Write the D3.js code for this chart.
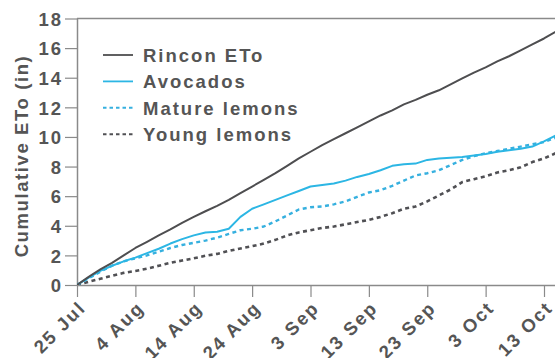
<!DOCTYPE html>
<html>
<head>
<meta charset="utf-8">
<script src="https://cdn.jsdelivr.net/npm/d3@7"></script>
<style>
  html, body { margin: 0; padding: 0; background: #fff; }
  svg { display: block; }
  text { font-family: "Liberation Sans", Arial, sans-serif; font-weight: bold; fill: #555; letter-spacing: 2px; }
</style>
</head>
<body>
<svg id="chart" width="555" height="358"></svg>
<script>
// Days after 25 July for each cumulative reading
const dayOffsets = [0, 2, 4, 6, 8, 10, 12, 14, 16, 18, 20, 22, 24, 26, 28, 30, 32, 34, 36, 38, 40,
  42, 44, 46, 48, 50, 52, 54, 56, 58, 60, 62, 64, 66, 68, 70, 72, 74, 76, 78, 80, 82];

// Cumulative evapotranspiration (inches)
const rinconETo = [0, 0.55, 1.05, 1.5, 2.0, 2.5, 2.92, 3.35, 3.75, 4.2, 4.6, 4.98, 5.35, 5.75, 6.2, 6.65,
  7.1, 7.55, 8.05, 8.55, 9.0, 9.45, 9.85, 10.25, 10.65, 11.05, 11.45, 11.8, 12.2, 12.5, 12.85,
  13.15, 13.55, 13.95, 14.35, 14.7, 15.1, 15.45, 15.85, 16.25, 16.65, 17.1];
const avocados = [0, 0.5, 0.95, 1.3, 1.6, 1.85, 2.15, 2.45, 2.8, 3.1, 3.35, 3.55, 3.6, 3.8, 4.6, 5.15,
  5.45, 5.75, 6.05, 6.35, 6.65, 6.75, 6.85, 7.05, 7.3, 7.5, 7.75, 8.05, 8.15, 8.2, 8.45,
  8.55, 8.6, 8.65, 8.75, 8.85, 9.0, 9.1, 9.2, 9.35, 9.7, 10.1];
const matureLemons = [0, 0.45, 0.9, 1.3, 1.6, 1.8, 2.0, 2.25, 2.5, 2.7, 2.85, 3.0, 3.2, 3.45, 3.7, 3.8,
  3.95, 4.3, 4.7, 5.1, 5.25, 5.3, 5.45, 5.65, 5.95, 6.25, 6.4, 6.7, 7.05, 7.4, 7.55,
  7.75, 8.1, 8.45, 8.7, 8.9, 9.05, 9.2, 9.35, 9.5, 9.65, 9.95];
const youngLemons = [0, 0.22, 0.42, 0.62, 0.82, 0.95, 1.1, 1.3, 1.5, 1.65, 1.8, 1.98, 2.1, 2.3, 2.47, 2.62,
  2.8, 3.05, 3.35, 3.55, 3.7, 3.85, 3.95, 4.1, 4.25, 4.4, 4.6, 4.85, 5.15, 5.3, 5.65,
  6.05, 6.45, 6.95, 7.15, 7.35, 7.6, 7.75, 7.95, 8.3, 8.55, 8.9];

const seriesNames = ["Rincon ETo", "Avocados", "Mature lemons", "Young lemons"];
const xTickLabels = ["25 Jul", "4 Aug", "14 Aug", "24 Aug", "3 Sep", "13 Sep", "23 Sep", "3 Oct", "13 Oct"];
const yTickValues = [0, 2, 4, 6, 8, 10, 12, 14, 16, 18];
const yAxisTitle = "Cumulative ETo (in)";

const startDate = new Date(2003, 6, 25);
const dateOf = d => d3.timeDay.offset(startDate, d);
const parseTick = d3.timeParse("%d %b %Y");
const xTickDates = xTickLabels.map(s => parseTick(s + " 2003"));

const svg = d3.select("#chart");
const plotLeft = 77, plotTop = 18.5, plotBottom = 285, plotRight = 600;

const x = d3.scaleTime()
  .domain([startDate, new Date(2003, 9, 13)])
  .range([plotLeft, 544]);
const y = d3.scaleLinear().domain([0, 18]).range([plotBottom, plotTop]);

const styles = [
  { color: "#4e4e50", dash: null, width: 2 },
  { color: "#2cb6e4", dash: null, width: 2 },
  { color: "#36b0df", dash: "4,3.5", width: 2.4 },
  { color: "#505054", dash: "4,3.5", width: 2.6 }
];
const seriesValues = [rinconETo, avocados, matureLemons, youngLemons];

// Plot frame: axes plus top border line
const axisColor = "#8a8a8a";
svg.append("line").attr("x1", plotLeft).attr("x2", plotRight).attr("y1", plotTop).attr("y2", plotTop)
  .attr("stroke", axisColor).attr("stroke-width", 1.5);

const yAxis = svg.append("g").attr("transform", `translate(${plotLeft},0)`)
  .call(d3.axisLeft(y).tickValues(yTickValues).tickSize(12).tickPadding(4));
const xAxis = svg.append("g").attr("transform", `translate(0,${plotBottom})`)
  .call(d3.axisBottom(x).tickValues(xTickDates).tickSize(12).tickFormat((d, i) => xTickLabels[i]));

[xAxis, yAxis].forEach(g => {
  g.select(".domain").attr("stroke", axisColor).attr("stroke-width", 1.5);
  g.selectAll(".tick line").attr("stroke", axisColor).attr("stroke-width", 1.2);
  g.selectAll("text").attr("font-size", null).attr("font-family", null).attr("fill", "#555")
    .style("font-size", "18.5px");
});
xAxis.select(".domain").attr("d", `M${plotLeft},0.5H${plotRight}`);
yAxis.select(".domain").attr("d", `M0.5,${plotBottom}V${plotTop}`);

yAxis.selectAll(".tick text").attr("x", -14).attr("dy", "0.36em");
xAxis.selectAll(".tick text")
  .attr("text-anchor", "end")
  .attr("dy", null).attr("y", null)
  .attr("transform", "translate(9.5,24) rotate(-45)");

svg.append("text")
  .attr("transform", `translate(28,156) rotate(-90)`)
  .attr("text-anchor", "middle")
  .style("font-size", "18.5px")
  .style("letter-spacing", "1.6px")
  .text(yAxisTitle);

// Series lines
svg.append("clipPath").attr("id", "plot-clip")
  .append("rect").attr("x", plotLeft).attr("y", plotTop - 2)
  .attr("width", plotRight - plotLeft).attr("height", plotBottom - plotTop + 2);

const line = d3.line()
  .x((d, i) => x(dateOf(dayOffsets[i])))
  .y(d => y(d));

const plot = svg.append("g").attr("clip-path", "url(#plot-clip)");
seriesValues.slice().reverse().forEach((vals, ri) => {
  const i = seriesValues.length - 1 - ri;
  plot.append("path")
    .datum(vals)
    .attr("d", line)
    .attr("fill", "none")
    .attr("stroke", styles[i].color)
    .attr("stroke-width", styles[i].width)
    .attr("stroke-dasharray", styles[i].dash)
    .attr("stroke-linejoin", "round");
});

// Legend
const legend = svg.append("g");
seriesNames.forEach((name, i) => {
  const cy = 55 + i * 26.4;
  legend.append("line")
    .attr("x1", 103).attr("x2", 133).attr("y1", cy).attr("y2", cy)
    .attr("stroke", styles[i].color)
    .attr("stroke-width", styles[i].dash ? 2 : 1.8)
    .attr("stroke-dasharray", styles[i].dash ? "3.5,3" : null);
  legend.append("text")
    .attr("x", 143).attr("y", cy + 7)
    .style("font-size", "18.5px")
    .text(name);
});
</script>
</body>
</html>
